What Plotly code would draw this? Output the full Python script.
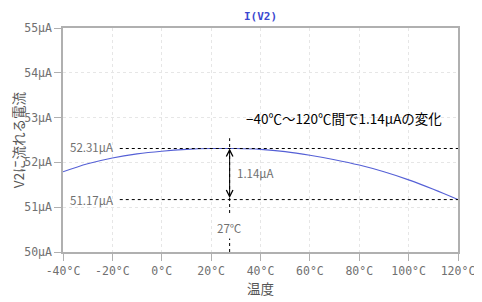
import plotly.graph_objects as go

temps = [-40, -30, -20, -10, 0, 10, 20, 27, 30, 40, 50, 60, 70, 80, 90, 100, 110, 120]
current = [51.79, 51.97, 52.10, 52.19, 52.25, 52.29, 52.31, 52.31, 52.31, 52.29, 52.24,
           52.16, 52.06, 51.94, 51.79, 51.61, 51.40, 51.17]
x_ticks = [-40, -20, 0, 20, 40, 60, 80, 100, 120]
x_labels = [f"{t}°C" for t in x_ticks]
y_ticks = [50, 51, 52, 53, 54, 55]
y_labels = [f"{v}µA" for v in y_ticks]

i_max = 52.31
i_min = 51.17
t_peak = 27.5
delta = round(i_max - i_min, 2)

mono = "DejaVu Sans Mono"
jp = "Noto Sans CJK JP"
gray = "#707070"

fig = go.Figure()
fig.add_trace(go.Scatter(x=temps, y=current, mode="lines", line=dict(color="#5560d6", width=1.1),
                         line_shape="spline", hoverinfo="skip", showlegend=False))

shapes = []
for v in (i_max, i_min):
    shapes.append(dict(type="line", xref="x", yref="y", x0=-17, x1=120, y0=v, y1=v,
                       line=dict(color="black", width=1, dash="dot")))
shapes.append(dict(type="line", xref="x", yref="y", x0=t_peak, x1=t_peak, y0=50.87, y1=52.54,
                   line=dict(color="black", width=1, dash="dot")))
shapes.append(dict(type="line", xref="x", yref="y", x0=t_peak, x1=t_peak, y0=50.0, y1=50.3,
                   line=dict(color="black", width=1, dash="dot")))

annotations = [
    dict(x=t_peak, y=i_max, ax=t_peak, ay=i_min, xref="x", yref="y", axref="x", ayref="y",
         showarrow=True, arrowhead=5, arrowside="end+start", arrowsize=1.3, arrowwidth=1,
         arrowcolor="black", text=""),
    dict(x=t_peak + 2, y=51.76, xref="x", yref="y", text=f"{delta}µA",
         showarrow=False, xanchor="left", font=dict(family=jp, size=11.5, color=gray)),
    dict(x=t_peak, y=50.53, xref="x", yref="y", text="27℃", showarrow=False,
         font=dict(family=jp, size=11.5, color=gray)),
    dict(x=-38, y=52.34, xref="x", yref="y", text=f"{i_max}µA", showarrow=False,
         xanchor="left", font=dict(family=jp, size=11.5, color=gray)),
    dict(x=-38, y=i_min, xref="x", yref="y", text=f"{i_min}µA", showarrow=False,
         xanchor="left", font=dict(family=jp, size=11.5, color=gray)),
    dict(x=33.5, y=53.0, xref="x", yref="y", text="−40℃〜120℃間で1.14µAの変化", showarrow=False,
         xanchor="left", font=dict(family=jp, size=13.5, color="black")),
    dict(x=0.5, y=1.0, xref="paper", yref="paper", yshift=3, text="<b>I(V2)</b>", showarrow=False,
         yanchor="bottom", font=dict(family=mono, size=11, color="#3a48d0")),
]

fig.update_layout(
    width=474, height=294,
    margin=dict(l=55, r=24, t=20, b=50, autoexpand=False),
    paper_bgcolor="white", plot_bgcolor="white",
    shapes=shapes, annotations=annotations,
    showlegend=False,
)
fig.update_xaxes(range=[-40, 120], tickvals=x_ticks, ticktext=x_labels,
                 tickfont=dict(family=mono, size=11.5, color=gray),
                 showline=True, linecolor="#b0b0b0", linewidth=1.5, mirror=True,
                 ticks="outside", ticklen=7, tickcolor="#b0b0b0",
                 showgrid=True, gridcolor="#e6e6e6", griddash="dot", zeroline=False,
                 title=dict(text="温度", font=dict(family=jp, size=13.5, color="#555555"), standoff=1))
fig.update_yaxes(range=[50, 55], tickvals=y_ticks, ticktext=y_labels,
                 tickfont=dict(family=mono, size=11.5, color=gray),
                 showline=True, linecolor="#b0b0b0", linewidth=1.5, mirror=True,
                 ticks="outside", ticklen=7, tickcolor="#b0b0b0",
                 showgrid=True, gridcolor="#e6e6e6", griddash="dot", zeroline=False,
                 title=dict(text="V2に流れる電流", font=dict(family=jp, size=13.5, color="#555555"),
                            standoff=1))

fig.write_html("out.html")
